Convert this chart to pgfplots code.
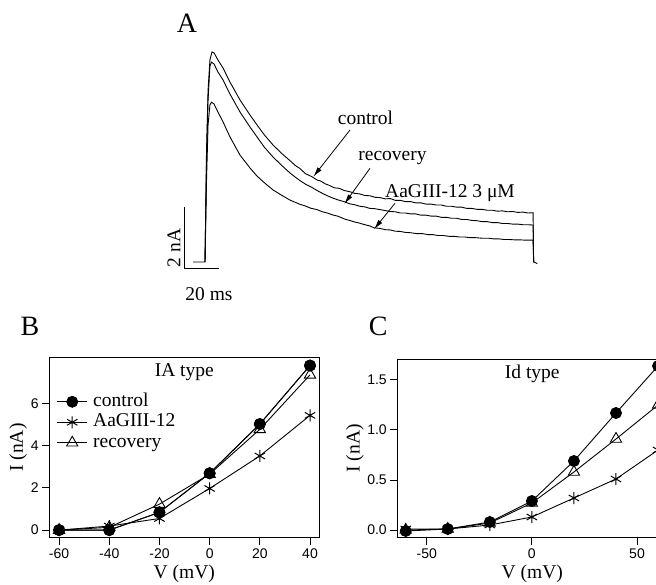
\documentclass[border=0pt]{standalone}
\usepackage{pgfplots}
\pgfplotsset{compat=1.18}
\usetikzlibrary{arrows.meta}
\usepackage{fontspec}
\setmainfont{Liberation Serif}
\newfontfamily\tickfont{Liberation Sans}
\begin{document}
\begin{tikzpicture}[x=1pt,y=1pt]
\useasboundingbox (0,0) rectangle (656,584);
\clip (0,0) rectangle (656,584);
\pgfplotsset{
  iv/.style={
    scale only axis, width=270pt,
    axis line style={line width=1.2pt},
    tick align=outside, tick pos=left,
    major tick length=7pt,
    every tick/.style={black, line width=1pt},
    ticklabel style={font=\tickfont\fontsize{14}{14}\selectfont},
    /pgf/number format/assume math mode=true,
    every axis plot/.append style={black, line width=0.9pt},
    clip=false,
  },
  ctl/.style={mark=*, mark size=5.5pt},
  tox/.style={mark=asterisk, mark size=6pt, mark options={line width=1pt}},
  rec/.style={mark=triangle, mark size=6.5pt, mark options={fill=white, line width=0.9pt}},
}
% ---------------- Panel A: current traces ----------------
\begin{axis}[at={(181.2pt,291.2pt)}, anchor=south west, scale only axis,
  width=363.8pt, height=246.4pt, xmin=-14, xmax=200, ymin=-1, ymax=7,
  hide axis, clip=false]
% control
\addplot[black, line width=0.9pt] coordinates {
(-7,0) (0,0) (0.9,3.64) (1.8,5.58) (2.9,6.56) (4.1,6.82) (5.3,6.79) (7.6,6.56)
(10.6,6.30) (14.7,5.84) (20.6,5.26) (26.5,4.77) (30.6,4.45) (35,4.12) (40,3.80)
(45,3.53) (50,3.29) (53,3.14) (56,3.03) (59,2.87) (62.9,2.77) (66,2.66) (68,2.63)
(71,2.53) (73.5,2.48) (76,2.41) (79,2.39) (82,2.32) (85.3,2.28) (88,2.23) (91,2.21)
(94,2.16) (97,2.15) (100,2.10) (103,2.09) (106,2.05) (109,2.06) (112,2.00) (115,2.00)
(118,1.96) (121,1.96) (124,1.92) (127,1.92) (130,1.88) (133,1.88) (136,1.85) (139,1.85)
(142,1.81) (145,1.81) (148,1.78) (151,1.78) (154,1.74) (157,1.74) (160,1.71) (163,1.71)
(166,1.68) (169,1.68) (172,1.65) (175,1.66) (178,1.63) (181,1.64) (184,1.61) (187,1.62)
(190,1.59) (193,1.60) (193.3,0) (195.5,-0.05)};
% recovery
\addplot[black, line width=0.9pt] coordinates {
(0,0) (0.9,3.31) (1.8,5.26) (2.9,6.36) (3.8,6.49) (5.3,6.43) (7.6,6.17) (10.6,5.91)
(14.7,5.45) (20.6,4.87) (26.5,4.38) (30.6,4.06) (35,3.72) (40,3.41) (45,3.14) (50,2.89)
(53,2.76) (56,2.64) (59,2.53) (62.9,2.42) (66,2.32) (69,2.23) (72,2.15) (75,2.08)
(78,2.02) (82.4,1.95) (85,1.89) (88,1.86) (91,1.81) (94,1.79) (97,1.74) (100,1.73)
(103,1.70) (106,1.67) (109,1.64) (112,1.63) (115,1.59) (118,1.59) (121,1.56) (124,1.56)
(127,1.52) (130,1.52) (133,1.49) (136,1.49) (139,1.45) (142,1.45) (145,1.42) (148,1.42)
(151,1.38) (154,1.38) (157,1.35) (160,1.34) (163,1.31) (166,1.31) (169,1.28) (172,1.28)
(175,1.25) (178,1.25) (181,1.23) (184,1.23) (187,1.21) (190,1.21) (193,1.20) (193.3,0)};
% AaGIII-12 3 uM
\addplot[black, line width=0.9pt] coordinates {
(0,0) (0.9,2.66) (1.8,4.45) (2.9,5.10) (3.8,5.19) (5.3,5.13) (7.6,4.87) (10.6,4.55)
(14.7,4.06) (20.6,3.47) (26.5,3.05) (30.6,2.79) (35,2.57) (40,2.34) (45,2.17) (50,2.01)
(53,1.94) (56,1.87) (59,1.82) (62,1.75) (65.9,1.70) (69,1.63) (72,1.59) (75,1.53)
(78,1.49) (82.4,1.39) (85,1.35) (88,1.30) (91,1.26) (94,1.21) (97,1.17) (99.4,1.11)
(103,1.09) (106,1.05) (109,1.04) (112,1.00) (115,0.99) (118,0.96) (121,0.95) (124.7,0.92)
(128,0.92) (131,0.89) (134,0.89) (137,0.86) (140,0.86) (144,0.83) (147,0.83) (150,0.81)
(153,0.81) (156,0.79) (159,0.79) (163.5,0.77) (167,0.77) (170,0.75) (173,0.75) (176,0.73)
(179,0.73) (182,0.72) (185,0.72) (188,0.71) (191,0.71) (193,0.71) (193.3,0)};
% scale bar: 20 ms, 2 nA
\addplot[black, line width=1pt] coordinates {(-11.8,1.773) (-11.8,-0.227) (8.2,-0.227)};
\end{axis}
% panel A labels and arrows
\node[font=\fontsize{28}{30}\selectfont, anchor=base] at (187,551) {A};
\node[font=\fontsize{19.5}{20}\selectfont, anchor=base] at (365.5,459.5) {control};
\node[font=\fontsize{19.5}{20}\selectfont, anchor=base] at (392.5,423) {recovery};
\node[font=\fontsize{19.5}{20}\selectfont, anchor=base] at (450,386) {AaGIII-12 3 μM};
\draw[line width=0.8pt, -{Latex[length=10pt,width=5pt]}] (350,454) -- (313.3,407.3);
\draw[line width=0.8pt, -{Latex[length=10pt,width=5pt]}] (370,415.7) -- (344.3,380);
\draw[line width=0.8pt, -{Latex[length=10pt,width=5pt]}] (395,380.7) -- (374,354.7);
\node[font=\fontsize{19.5}{20}\selectfont, rotate=90] at (174,336) {2 nA};
\node[font=\fontsize{19.5}{20}\selectfont] at (209,290) {20 ms};
% panel letters
\node[font=\fontsize{28}{30}\selectfont, anchor=base] at (30,248) {B};
\node[font=\fontsize{28}{30}\selectfont, anchor=base] at (378.3,248) {C};
% ---------------- Panel B: IA type ----------------
\begin{axis}[iv, at={(49.3pt,46.3pt)}, anchor=south west, height=180.4pt,
  xmin=-63.9, xmax=43.7, ymin=-0.36, ymax=8.18,
  xtick={-60,-40,-20,0,20,40}, ytick={0,2,4,6},
  xlabel={V (mV)}, ylabel={I (nA)},
  every axis x label/.style={at={(axis description cs:0.5,-0.228)}, anchor=base, font=\fontsize{19.5}{20}\selectfont},
  every axis y label/.style={at={(axis description cs:-0.115,0.5)}, rotate=90, anchor=center, font=\fontsize{19.5}{20}\selectfont},
  legend image code/.code={\draw[mark repeat=2,mark phase=2] plot coordinates {(0pt,0pt) (15pt,0pt) (30pt,0pt)};},
  legend cell align=left,
  legend style={draw=none, fill=none, at={(axis description cs:0.027,0.810)}, anchor=north west,
    inner sep=0pt, row sep=0.5pt, column sep=4pt, font=\fontsize{19.5}{20}\selectfont,
    nodes={inner sep=1.5pt, text height=13pt, text depth=4pt}},
]
\addplot[ctl] coordinates {(-60,0) (-40,0) (-20,0.84) (0,2.69) (20,5.02) (40,7.79)};
\addplot[tox] coordinates {(-60,0) (-40,0.19) (-20,0.55) (0,1.97) (20,3.51) (40,5.43)};
\addplot[rec] coordinates {(-60,0) (-40,0.13) (-20,1.23) (0,2.65) (20,4.77) (40,7.35)};
\addplot[ctl, forget plot] coordinates {(-60,0) (-40,0) (-20,0.84) (0,2.69) (20,5.02) (40,7.79)};
\legend{control, AaGIII-12, recovery}
\node[font=\fontsize{19.5}{20}\selectfont, anchor=base] at (axis description cs:0.5,0.894) {IA type};
\end{axis}
% ---------------- Panel C: Id type ----------------
\begin{axis}[iv, at={(397.3pt,46.3pt)}, anchor=south west, height=178.4pt,
  xmin=-64, xmax=64.4, ymin=-0.077, ymax=1.707,
  xtick={-50,0,50}, ytick={0,0.5,1,1.5},
  yticklabel style={/pgf/number format/.cd, fixed, fixed zerofill, precision=1},
  xlabel={V (mV)}, ylabel={I (nA)},
  every axis x label/.style={at={(axis description cs:0.5,-0.2305)}, anchor=base, font=\fontsize{19.5}{20}\selectfont},
  every axis y label/.style={at={(axis description cs:-0.157,0.5)}, rotate=90, anchor=center, font=\fontsize{19.5}{20}\selectfont},
]
\addplot[tox] coordinates {(-60,0.01) (-40,0.01) (-20,0.05) (0,0.13) (20,0.32) (40,0.51) (60,0.80)};
\addplot[rec] coordinates {(-60,0) (-40,0.01) (-20,0.07) (0,0.27) (20,0.58) (40,0.91) (60,1.25)};
\addplot[ctl] coordinates {(-60,-0.01) (-40,0.01) (-20,0.08) (0,0.29) (20,0.69) (40,1.17) (60,1.64)};
\node[font=\fontsize{19.5}{20}\selectfont, anchor=base] at (axis description cs:0.5,0.895) {Id type};
\end{axis}
\end{tikzpicture}
\end{document}
